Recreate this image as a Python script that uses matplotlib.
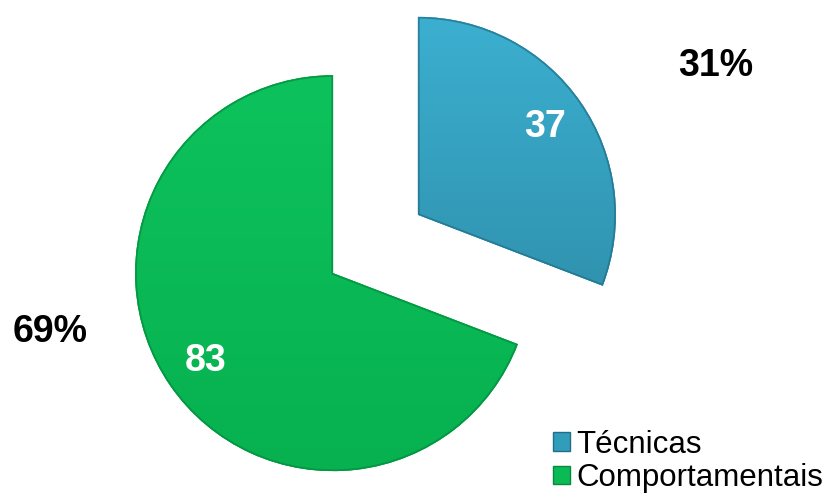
import matplotlib
matplotlib.use("Agg")
import matplotlib.pyplot as plt
import numpy as np
from matplotlib.colors import LinearSegmentedColormap
from matplotlib.patches import Wedge

plt.rcParams["font.family"] = ["Liberation Sans", "DejaVu Sans"]

categories = ["Técnicas", "Comportamentais"]
values = [37, 83]
share_labels = ["31%", "69%"]

# colours: (light top, dark bottom, edge)
shades = [("#3CAFD0", "#2A86A0", "#216F86"), ("#0DC25C", "#07B150", "#06893E")]
base_colors = ["#319DBB", "#0ABA55"]

W, H = 825, 497
R_PX = 198.0
cx_px, cy_px = 375.5, 244.0

fig = plt.figure(figsize=(W / 100, H / 100), dpi=100)
ax = fig.add_axes([0, 0, 1, 1])

total = sum(values)
wedges, _, autotexts = ax.pie(
    values,
    colors=base_colors,
    startangle=90,
    counterclock=False,
    explode=[0.26, 0.26],
    radius=1.0,
    autopct=lambda p: f"{p * total / 100:.0f}",
    pctdistance=0.78,
    wedgeprops=dict(linewidth=0),
    textprops=dict(color="white", fontsize=27, fontweight="bold"),
)

# vertical gradient fill plus a darker rim on each slice
grad = np.linspace(0, 1, 256).reshape(-1, 1)
for w, (top, bottom, edge) in zip(wedges, shades):
    cmap = LinearSegmentedColormap.from_list("g", [bottom, top])
    x0, y0 = w.center
    im = ax.imshow(grad, cmap=cmap, origin="lower", aspect="auto",
                   extent=(x0 - 1, x0 + 1, y0 - 1, y0 + 1), zorder=2,
                   interpolation="bilinear")
    im.set_clip_path(w)
    w.set_zorder(1)
    rim = Wedge(w.center, w.r, w.theta1, w.theta2, fill=False,
                edgecolor=edge, linewidth=2.5, alpha=0.7, zorder=3)
    ax.add_patch(rim)
    rim.set_clip_path(w)

for t in autotexts:
    t.set_zorder(5)

# pixel-matched limits so the pie stays round
ax.set_xlim(-cx_px / R_PX, (W - cx_px) / R_PX)
ax.set_ylim(-(H - cy_px) / R_PX, cy_px / R_PX)
ax.set_aspect("equal")
ax.axis("off")

# outside share labels
ax.text(0.867, 0.867, share_labels[0], transform=ax.transAxes, ha="center",
        va="center", fontsize=27, fontweight="bold", color="black")
ax.text(0.061, 0.332, share_labels[1], transform=ax.transAxes, ha="center",
        va="center", fontsize=27, fontweight="bold", color="black")

leg = fig.legend(
    wedges, categories, loc="lower right", bbox_to_anchor=(0.998, 0.008),
    frameon=False, fontsize=22.5, handlelength=0.55, handleheight=0.55,
    handletextpad=0.2, labelspacing=0.1, borderpad=0.0, borderaxespad=0.0,
)
for h, (_, _, edge) in zip(leg.legend_handles, shades):
    h.set_edgecolor(edge)
    h.set_linewidth(1.0)

fig.savefig("out.png", dpi=100)
